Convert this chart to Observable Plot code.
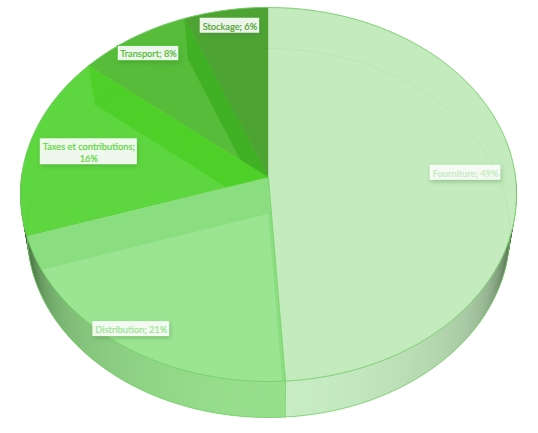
<!DOCTYPE html>
<html><head><meta charset="utf-8">
<script src="https://cdn.jsdelivr.net/npm/d3@7"></script>
<script src="https://cdn.jsdelivr.net/npm/@observablehq/plot@0.6"></script>
<style>
html,body{margin:0;background:#fff}
svg{display:block}
g[aria-label="rect"] rect{filter:drop-shadow(1.5px 2px 2px rgba(70,130,60,.4))}
</style></head><body><div id="chart"></div>
<script>
const categories = ["Fourniture", "Distribution", "Taxes et contributions", "Transport", "Stockage"];
const shares = [49, 21, 16, 8, 6];
const faceColors = ["#c3ebbd", "#9ae492", "#5ed63f", "#57bc3a", "#4da433"];
const wallColors = ["#8ade7f", "#8ade7f", "#4fd029", "#40b024", "#40b024"];
const labelTexts = ["Fourniture; 49%", "Distribution; 21%", "Taxes et contributions;\n16%", "Transport; 8%", "Stockage; 6%"];
const labelRadii = [0.8, 0.92, 0.75, 0.88, 0.9];
const labelColors = ["#c3ebbd", "#9ae492", "#5ed63f", "#57bc3a", "#4da433"];

const W = 538, H = 433, FONT = "Lato, 'Open Sans', sans-serif", FS = 9.3;
const cx = 268;
const faces = [
  {cy: 177, A: 247, B: 185.45, k: 0.0909},
  {cy: 213, A: 240, B: 182.4, k: 0.1057}
];
function project(a, r, f) {
  const p = faces[f], w = 1 + p.k * r * Math.cos(a);
  return [cx + p.A * r * Math.sin(a) / w, p.cy - p.B * r * Math.cos(a) / w];
}
const arcs = d3.pie().sort(null).value(d => d)(shares);
const deg = Math.PI / 180;
function arcPts(a0, a1, f) {
  const n = Math.max(2, Math.ceil(Math.abs(a1 - a0) / deg));
  return d3.range(n + 1).map(i => project(a0 + (a1 - a0) * i / n, 1, f));
}
const polys = [];
let pid = 0;
function addPoly(pts, fill, stroke = fill, sw = 0.5) {
  const id = pid++;
  pts.forEach(([x, y]) => polys.push({x, y, id, fill, stroke, sw}));
}
function sector(i) {
  addPoly([project(0, 0, 0), ...arcPts(arcs[i].startAngle, arcs[i].endAngle, 0)], faceColors[i], d3.color(faceColors[i]).darker(0.35).formatHex());
}
function wall(i, a) {
  addPoly([project(0, 0, 0), project(a, 1, 0), project(a, 1, 1), project(0, 0, 1)], wallColors[i], wallColors[i], 0.3);
}
function shade(a, base) {
  const t = Math.abs(Math.sin(a));
  const mix = 0.3 * t * t + 0.7 * Math.pow(t, 12);
  return d3.color(d3.interpolateRgb(base, "#263a22")(mix)).formatHex();
}
// outer cylinder side, painted as overlapping strips so that no seams show
function side(dFrom, dTo) {
  for (let d = dFrom; d < dTo; d += 0.5) {
    const a0 = d * deg, a1 = Math.min(d + 1.5, dTo) * deg;
    const base = a0 < arcs[0].endAngle ? "#c8ecc3" : "#97de8d";
    const col = shade(a0 + deg / 4, base);
    addPoly([project(a0, 1, 0), project(a1, 1, 0), project(a1, 1, 1), project(a0, 1, 1)], col, "none", 0);
  }
}
const endDist = arcs[1].endAngle / deg;
// back-to-front painting of the faces and the inner walls
side(endDist, 272);
sector(4);
sector(3); wall(3, arcs[4].startAngle);
sector(2); wall(2, arcs[3].startAngle);
sector(1); wall(1, arcs[2].startAngle);
wall(1, arcs[1].startAngle);
side(90, endDist);
sector(0);
const edge = (pts, id) => pts.map(([x, y]) => ({x, y, id}));
const backArc = [
  ...edge(arcPts(arcs[2].startAngle + 10 * deg, 2 * Math.PI, 1), "a"),
  ...edge(arcPts(0, 100 * deg, 1), "b")
];
const rims = [
  ...edge(arcPts(0, 2 * Math.PI, 0), "top"),
  ...edge(arcPts(97 * deg, 262 * deg, 1), "bottom"),
  ...edge([project(arcs[0].endAngle, 1, 0), project(arcs[0].endAngle, 1, 1)], "seam"),
  ...edge([project(0, 0, 0), project(arcs[0].endAngle, 1, 0)], "split")
];
// labels
const ctx = document.createElement("canvas").getContext("2d");
ctx.font = `${FS}px ${FONT}`;
const labels = labelTexts.map((text, i) => {
  const [x, y] = project((arcs[i].startAngle + arcs[i].endAngle) / 2, labelRadii[i], 0);
  const lines = text.split("\n");
  const w = d3.max(lines, l => ctx.measureText(l).width) + 5;
  const h = lines.length * 13 + (lines.length > 1 ? 0 : 2);
  return {text, x, y, x1: x - w / 2, x2: x + w / 2, y1: y - h / 2, y2: y + h / 2, color: labelColors[i], i};
});
const plot = Plot.plot({
  width: W, height: H, margin: 0,
  x: {domain: [0, W], range: [0, W], axis: null},
  y: {domain: [0, H], range: [0, H], axis: null},
  style: {background: "transparent"},
  marks: [
    Plot.line(polys, {x: "x", y: "y", z: "id", fill: "fill", stroke: "stroke", strokeWidth: "sw", strokeLinejoin: "round"}),
    Plot.line(backArc, {x: "x", y: "y", z: "id", stroke: "#3d7a2d", strokeOpacity: 0.08, strokeWidth: 0.8}),
    Plot.line(rims, {x: "x", y: "y", z: "id", stroke: "#72d264", strokeWidth: 0.8}),
    Plot.rect(labels, {x1: "x1", x2: "x2", y1: "y1", y2: "y2", fill: "#fff", fillOpacity: 0.9,
      stroke: d => d.i === 3 ? "#57c93a" : "none", strokeWidth: 1}),
    Plot.text(labels, {x: "x", y: "y", text: "text", fill: "color", stroke: "color", strokeWidth: 0.2, fontFamily: FONT, fontSize: FS, lineHeight: 1.3})
  ]
});
document.getElementById("chart").append(plot);
</script></body></html>
